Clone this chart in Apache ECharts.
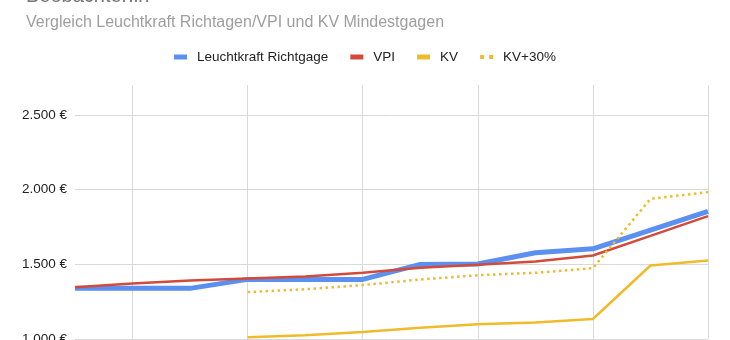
<!DOCTYPE html>
<html>
<head>
<meta charset="utf-8">
<script src="https://cdn.jsdelivr.net/npm/echarts@6/dist/echarts.min.js"></script>
<style>
html,body{margin:0;padding:0;background:#fff;overflow:hidden;}
#chart{width:730px;height:340px;}
</style>
</head>
<body>
<div id="chart"></div>
<script>
var titleText = "Beobachter:in";
var subtitleText = "Vergleich Leuchtkraft Richtagen/VPI und KV Mindestgagen";
var categories = ["1","2","3","4","5","6","7","8","9","10","11","12"];
var seriesNames = ["Leuchtkraft Richtgage", "VPI", "KV", "KV+30%"];
var leuchtkraft = [1339, 1339, 1339, 1399, 1399, 1399, 1499, 1502, 1577, 1604, 1728, 1855];
var vpi = [1347, 1372, 1392, 1405, 1418, 1443, 1477, 1497, 1519, 1559, 1690, 1822];
var kv = [null, null, null, 1011, 1025, 1047, 1075, 1098, 1110, 1134, 1492, 1526];
var kv30 = [null, null, null, 1314, 1333, 1361, 1398, 1427, 1443, 1474, 1938, 1983];
var yMin = 1000, yMax = 2700, yStep = 500;

var font = "Arial, 'Liberation Sans', sans-serif";
var chart = echarts.init(document.getElementById('chart'), null, {renderer:'canvas'});
function fmt(v){
  var s = String(Math.round(v));
  return s.replace(/\B(?=(\d{3})+(?!\d))/g, '.') + ' \u20AC';
}
chart.setOption({
  animation: false,
  backgroundColor: '#ffffff',
  title: [
    {text: titleText, left: 21, top: -19, textStyle: {fontFamily: font, fontSize: 20, fontWeight: 'normal', color: '#757575'}},
    {text: subtitleText, left: 21, top: 10, textStyle: {fontFamily: font, fontSize: 16, fontWeight: 'normal', color: '#9e9e9e'}}
  ],
  legend: {
    top: 45, left: 'center',
    itemWidth: 13, itemHeight: 5, itemGap: 22,
    textStyle: {fontFamily: font, fontSize: 13.5, color: '#222222', padding: [0,0,0,5]},
    data: [
      {name: seriesNames[0], icon: 'rect'},
      {name: seriesNames[1], icon: 'rect'},
      {name: seriesNames[2], icon: 'rect'},
      {name: seriesNames[3], icon: 'path://M0,0h4v4h-4z M9,0h4v4h-4z'}
    ]
  },
  grid: {left: 75, right: 22, top: 85, bottom: 1, containLabel: false, outerBoundsMode: 'none'},
  xAxis: {
    type: 'category', data: categories, boundaryGap: false,
    axisLine: {show: false}, axisTick: {show: false}, axisLabel: {show: false},
    splitLine: {show: true, interval: function(i){ return i % 2 === 1; }, lineStyle: {color: '#d9d9d9', width: 1}}
  },
  yAxis: {
    type: 'value', min: yMin, max: yMax, interval: yStep,
    axisLine: {show: false}, axisTick: {show: false},
    axisLabel: {showMaxLabel: false, margin: 8, fontFamily: font, fontSize: 13.5, color: '#222222', formatter: fmt},
    splitLine: {show: true, showMaxLine: false, lineStyle: {color: '#d9d9d9', width: 1}}
  },
  series: [
    {name: seriesNames[0], type: 'line', data: leuchtkraft, showSymbol: false, symbol: 'none', color: '#5b8ff0', lineStyle: {width: 5, color: '#5b8ff0'}},
    {name: seriesNames[1], type: 'line', data: vpi, showSymbol: false, symbol: 'none', color: '#d24a3a', lineStyle: {width: 2.5, color: '#d24a3a'}},
    {name: seriesNames[2], type: 'line', data: kv, showSymbol: false, symbol: 'none', color: '#f0bb2b', lineStyle: {width: 2.5, color: '#f0bb2b'}},
    {name: seriesNames[3], type: 'line', data: kv30, showSymbol: false, symbol: 'none', color: '#f0bb2b', lineStyle: {width: 2.5, color: '#f0bb2b', type: [2.5, 3.5]}}
  ]
});
</script>
</body>
</html>
